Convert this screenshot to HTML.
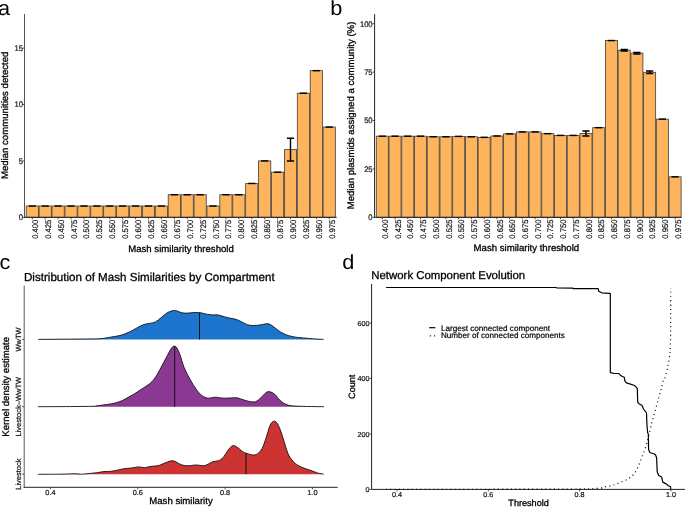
<!DOCTYPE html>
<html><head><meta charset="utf-8"><title>Figure</title>
<style>html,body{margin:0;padding:0;background:#fff;overflow:hidden}svg{display:block;will-change:transform}text{font-family:"Liberation Sans",sans-serif;text-rendering:geometricPrecision}</style>
</head><body>
<svg width="685" height="507" viewBox="0 0 685 507" font-family='"Liberation Sans", sans-serif'>
<rect width="685" height="507" fill="#fff"/>
<rect x="26.20" y="206.02" width="12.20" height="11.28" fill="#FDB45C" stroke="#3d3d3d" stroke-width="0.8"/>
<rect x="39.11" y="206.02" width="12.20" height="11.28" fill="#FDB45C" stroke="#3d3d3d" stroke-width="0.8"/>
<rect x="52.02" y="206.02" width="12.20" height="11.28" fill="#FDB45C" stroke="#3d3d3d" stroke-width="0.8"/>
<rect x="64.93" y="206.02" width="12.20" height="11.28" fill="#FDB45C" stroke="#3d3d3d" stroke-width="0.8"/>
<rect x="77.84" y="206.02" width="12.20" height="11.28" fill="#FDB45C" stroke="#3d3d3d" stroke-width="0.8"/>
<rect x="90.75" y="206.02" width="12.20" height="11.28" fill="#FDB45C" stroke="#3d3d3d" stroke-width="0.8"/>
<rect x="103.66" y="206.02" width="12.20" height="11.28" fill="#FDB45C" stroke="#3d3d3d" stroke-width="0.8"/>
<rect x="116.57" y="206.02" width="12.20" height="11.28" fill="#FDB45C" stroke="#3d3d3d" stroke-width="0.8"/>
<rect x="129.48" y="206.02" width="12.20" height="11.28" fill="#FDB45C" stroke="#3d3d3d" stroke-width="0.8"/>
<rect x="142.39" y="206.02" width="12.20" height="11.28" fill="#FDB45C" stroke="#3d3d3d" stroke-width="0.8"/>
<rect x="155.30" y="206.02" width="12.20" height="11.28" fill="#FDB45C" stroke="#3d3d3d" stroke-width="0.8"/>
<rect x="168.21" y="194.74" width="12.20" height="22.56" fill="#FDB45C" stroke="#3d3d3d" stroke-width="0.8"/>
<rect x="181.12" y="194.74" width="12.20" height="22.56" fill="#FDB45C" stroke="#3d3d3d" stroke-width="0.8"/>
<rect x="194.03" y="194.74" width="12.20" height="22.56" fill="#FDB45C" stroke="#3d3d3d" stroke-width="0.8"/>
<rect x="206.94" y="206.02" width="12.20" height="11.28" fill="#FDB45C" stroke="#3d3d3d" stroke-width="0.8"/>
<rect x="219.85" y="194.74" width="12.20" height="22.56" fill="#FDB45C" stroke="#3d3d3d" stroke-width="0.8"/>
<rect x="232.76" y="194.74" width="12.20" height="22.56" fill="#FDB45C" stroke="#3d3d3d" stroke-width="0.8"/>
<rect x="245.67" y="183.46" width="12.20" height="33.84" fill="#FDB45C" stroke="#3d3d3d" stroke-width="0.8"/>
<rect x="258.58" y="160.90" width="12.20" height="56.40" fill="#FDB45C" stroke="#3d3d3d" stroke-width="0.8"/>
<rect x="271.49" y="172.18" width="12.20" height="45.12" fill="#FDB45C" stroke="#3d3d3d" stroke-width="0.8"/>
<rect x="284.40" y="149.62" width="12.20" height="67.68" fill="#FDB45C" stroke="#3d3d3d" stroke-width="0.8"/>
<rect x="297.31" y="93.22" width="12.20" height="124.08" fill="#FDB45C" stroke="#3d3d3d" stroke-width="0.8"/>
<rect x="310.22" y="70.66" width="12.20" height="146.64" fill="#FDB45C" stroke="#3d3d3d" stroke-width="0.8"/>
<rect x="323.13" y="127.06" width="12.20" height="90.24" fill="#FDB45C" stroke="#3d3d3d" stroke-width="0.8"/>
<path d="M28.70,206.02 H35.90" stroke="#000" stroke-width="1.45" fill="none"/>
<path d="M41.61,206.02 H48.81" stroke="#000" stroke-width="1.45" fill="none"/>
<path d="M54.52,206.02 H61.72" stroke="#000" stroke-width="1.45" fill="none"/>
<path d="M67.43,206.02 H74.63" stroke="#000" stroke-width="1.45" fill="none"/>
<path d="M80.34,206.02 H87.54" stroke="#000" stroke-width="1.45" fill="none"/>
<path d="M93.25,206.02 H100.45" stroke="#000" stroke-width="1.45" fill="none"/>
<path d="M106.16,206.02 H113.36" stroke="#000" stroke-width="1.45" fill="none"/>
<path d="M119.07,206.02 H126.27" stroke="#000" stroke-width="1.45" fill="none"/>
<path d="M131.98,206.02 H139.18" stroke="#000" stroke-width="1.45" fill="none"/>
<path d="M144.89,206.02 H152.09" stroke="#000" stroke-width="1.45" fill="none"/>
<path d="M157.80,206.02 H165.00" stroke="#000" stroke-width="1.45" fill="none"/>
<path d="M170.71,194.74 H177.91" stroke="#000" stroke-width="1.45" fill="none"/>
<path d="M183.62,194.74 H190.82" stroke="#000" stroke-width="1.45" fill="none"/>
<path d="M196.53,194.74 H203.73" stroke="#000" stroke-width="1.45" fill="none"/>
<path d="M209.44,206.02 H216.64" stroke="#000" stroke-width="1.45" fill="none"/>
<path d="M222.35,194.74 H229.55" stroke="#000" stroke-width="1.45" fill="none"/>
<path d="M235.26,194.74 H242.46" stroke="#000" stroke-width="1.45" fill="none"/>
<path d="M248.17,183.46 H255.37" stroke="#000" stroke-width="1.45" fill="none"/>
<path d="M261.08,160.90 H268.28" stroke="#000" stroke-width="1.45" fill="none"/>
<path d="M273.99,172.18 H281.19" stroke="#000" stroke-width="1.45" fill="none"/>
<path d="M286.90,138.34 H294.10 M286.90,160.90 H294.10 M290.50,138.34 V160.90" stroke="#000" stroke-width="1.45" fill="none"/>
<path d="M299.81,93.22 H307.01" stroke="#000" stroke-width="1.45" fill="none"/>
<path d="M312.72,70.66 H319.92" stroke="#000" stroke-width="1.45" fill="none"/>
<path d="M325.63,127.06 H332.83" stroke="#000" stroke-width="1.45" fill="none"/>
<path d="M24.50,14.00 V217.80" stroke="#555" stroke-width="1" fill="none"/>
<path d="M24.00,217.30 H336.70" stroke="#222" stroke-width="1" fill="none"/>
<path d="M22.50,217.30 H24.50" stroke="#222" stroke-width="0.8"/>
<text x="0.00" y="0.00" font-size="8.10" text-anchor="end" transform="translate(23.00,220.22) scale(0.940,1)" fill="#111" stroke="#111" stroke-width="0.20">0</text>
<path d="M22.50,160.90 H24.50" stroke="#222" stroke-width="0.8"/>
<text x="0.00" y="0.00" font-size="8.10" text-anchor="end" transform="translate(23.00,163.82) scale(0.940,1)" fill="#111" stroke="#111" stroke-width="0.20">5</text>
<path d="M22.50,104.50 H24.50" stroke="#222" stroke-width="0.8"/>
<text x="0.00" y="0.00" font-size="8.10" text-anchor="end" transform="translate(23.00,107.42) scale(0.940,1)" fill="#111" stroke="#111" stroke-width="0.20">10</text>
<path d="M22.50,48.10 H24.50" stroke="#222" stroke-width="0.8"/>
<text x="0.00" y="0.00" font-size="8.10" text-anchor="end" transform="translate(23.00,51.02) scale(0.940,1)" fill="#111" stroke="#111" stroke-width="0.20">15</text>
<path d="M32.30,217.30 V219.30" stroke="#222" stroke-width="0.8"/>
<text x="0.00" y="0.00" font-size="8.10" text-anchor="end" transform="translate(37.80,219.70) rotate(-90) scale(0.940,1)" fill="#111" stroke="#111" stroke-width="0.20">0.400</text>
<path d="M45.21,217.30 V219.30" stroke="#222" stroke-width="0.8"/>
<text x="0.00" y="0.00" font-size="8.10" text-anchor="end" transform="translate(50.71,219.70) rotate(-90) scale(0.940,1)" fill="#111" stroke="#111" stroke-width="0.20">0.425</text>
<path d="M58.12,217.30 V219.30" stroke="#222" stroke-width="0.8"/>
<text x="0.00" y="0.00" font-size="8.10" text-anchor="end" transform="translate(63.62,219.70) rotate(-90) scale(0.940,1)" fill="#111" stroke="#111" stroke-width="0.20">0.450</text>
<path d="M71.03,217.30 V219.30" stroke="#222" stroke-width="0.8"/>
<text x="0.00" y="0.00" font-size="8.10" text-anchor="end" transform="translate(76.53,219.70) rotate(-90) scale(0.940,1)" fill="#111" stroke="#111" stroke-width="0.20">0.475</text>
<path d="M83.94,217.30 V219.30" stroke="#222" stroke-width="0.8"/>
<text x="0.00" y="0.00" font-size="8.10" text-anchor="end" transform="translate(89.44,219.70) rotate(-90) scale(0.940,1)" fill="#111" stroke="#111" stroke-width="0.20">0.500</text>
<path d="M96.85,217.30 V219.30" stroke="#222" stroke-width="0.8"/>
<text x="0.00" y="0.00" font-size="8.10" text-anchor="end" transform="translate(102.35,219.70) rotate(-90) scale(0.940,1)" fill="#111" stroke="#111" stroke-width="0.20">0.525</text>
<path d="M109.76,217.30 V219.30" stroke="#222" stroke-width="0.8"/>
<text x="0.00" y="0.00" font-size="8.10" text-anchor="end" transform="translate(115.26,219.70) rotate(-90) scale(0.940,1)" fill="#111" stroke="#111" stroke-width="0.20">0.550</text>
<path d="M122.67,217.30 V219.30" stroke="#222" stroke-width="0.8"/>
<text x="0.00" y="0.00" font-size="8.10" text-anchor="end" transform="translate(128.17,219.70) rotate(-90) scale(0.940,1)" fill="#111" stroke="#111" stroke-width="0.20">0.575</text>
<path d="M135.58,217.30 V219.30" stroke="#222" stroke-width="0.8"/>
<text x="0.00" y="0.00" font-size="8.10" text-anchor="end" transform="translate(141.08,219.70) rotate(-90) scale(0.940,1)" fill="#111" stroke="#111" stroke-width="0.20">0.600</text>
<path d="M148.49,217.30 V219.30" stroke="#222" stroke-width="0.8"/>
<text x="0.00" y="0.00" font-size="8.10" text-anchor="end" transform="translate(153.99,219.70) rotate(-90) scale(0.940,1)" fill="#111" stroke="#111" stroke-width="0.20">0.625</text>
<path d="M161.40,217.30 V219.30" stroke="#222" stroke-width="0.8"/>
<text x="0.00" y="0.00" font-size="8.10" text-anchor="end" transform="translate(166.90,219.70) rotate(-90) scale(0.940,1)" fill="#111" stroke="#111" stroke-width="0.20">0.650</text>
<path d="M174.31,217.30 V219.30" stroke="#222" stroke-width="0.8"/>
<text x="0.00" y="0.00" font-size="8.10" text-anchor="end" transform="translate(179.81,219.70) rotate(-90) scale(0.940,1)" fill="#111" stroke="#111" stroke-width="0.20">0.675</text>
<path d="M187.22,217.30 V219.30" stroke="#222" stroke-width="0.8"/>
<text x="0.00" y="0.00" font-size="8.10" text-anchor="end" transform="translate(192.72,219.70) rotate(-90) scale(0.940,1)" fill="#111" stroke="#111" stroke-width="0.20">0.700</text>
<path d="M200.13,217.30 V219.30" stroke="#222" stroke-width="0.8"/>
<text x="0.00" y="0.00" font-size="8.10" text-anchor="end" transform="translate(205.63,219.70) rotate(-90) scale(0.940,1)" fill="#111" stroke="#111" stroke-width="0.20">0.725</text>
<path d="M213.04,217.30 V219.30" stroke="#222" stroke-width="0.8"/>
<text x="0.00" y="0.00" font-size="8.10" text-anchor="end" transform="translate(218.54,219.70) rotate(-90) scale(0.940,1)" fill="#111" stroke="#111" stroke-width="0.20">0.750</text>
<path d="M225.95,217.30 V219.30" stroke="#222" stroke-width="0.8"/>
<text x="0.00" y="0.00" font-size="8.10" text-anchor="end" transform="translate(231.45,219.70) rotate(-90) scale(0.940,1)" fill="#111" stroke="#111" stroke-width="0.20">0.775</text>
<path d="M238.86,217.30 V219.30" stroke="#222" stroke-width="0.8"/>
<text x="0.00" y="0.00" font-size="8.10" text-anchor="end" transform="translate(244.36,219.70) rotate(-90) scale(0.940,1)" fill="#111" stroke="#111" stroke-width="0.20">0.800</text>
<path d="M251.77,217.30 V219.30" stroke="#222" stroke-width="0.8"/>
<text x="0.00" y="0.00" font-size="8.10" text-anchor="end" transform="translate(257.27,219.70) rotate(-90) scale(0.940,1)" fill="#111" stroke="#111" stroke-width="0.20">0.825</text>
<path d="M264.68,217.30 V219.30" stroke="#222" stroke-width="0.8"/>
<text x="0.00" y="0.00" font-size="8.10" text-anchor="end" transform="translate(270.18,219.70) rotate(-90) scale(0.940,1)" fill="#111" stroke="#111" stroke-width="0.20">0.850</text>
<path d="M277.59,217.30 V219.30" stroke="#222" stroke-width="0.8"/>
<text x="0.00" y="0.00" font-size="8.10" text-anchor="end" transform="translate(283.09,219.70) rotate(-90) scale(0.940,1)" fill="#111" stroke="#111" stroke-width="0.20">0.875</text>
<path d="M290.50,217.30 V219.30" stroke="#222" stroke-width="0.8"/>
<text x="0.00" y="0.00" font-size="8.10" text-anchor="end" transform="translate(296.00,219.70) rotate(-90) scale(0.940,1)" fill="#111" stroke="#111" stroke-width="0.20">0.900</text>
<path d="M303.41,217.30 V219.30" stroke="#222" stroke-width="0.8"/>
<text x="0.00" y="0.00" font-size="8.10" text-anchor="end" transform="translate(308.91,219.70) rotate(-90) scale(0.940,1)" fill="#111" stroke="#111" stroke-width="0.20">0.925</text>
<path d="M316.32,217.30 V219.30" stroke="#222" stroke-width="0.8"/>
<text x="0.00" y="0.00" font-size="8.10" text-anchor="end" transform="translate(321.82,219.70) rotate(-90) scale(0.940,1)" fill="#111" stroke="#111" stroke-width="0.20">0.950</text>
<path d="M329.23,217.30 V219.30" stroke="#222" stroke-width="0.8"/>
<text x="0.00" y="0.00" font-size="8.10" text-anchor="end" transform="translate(334.73,219.70) rotate(-90) scale(0.940,1)" fill="#111" stroke="#111" stroke-width="0.20">0.975</text>
<text x="181.00" y="252.00" font-size="9.60" text-anchor="middle" fill="#000" stroke="#000" stroke-width="0.30">Mash similarity threshold</text>
<text x="0.00" y="0.00" font-size="9.60" text-anchor="middle" transform="translate(8.00,115.35) rotate(-90)" fill="#000" stroke="#000" stroke-width="0.30">Median communities detected</text>
<text transform="translate(-1.90,14.90) scale(1.060,1)" x="0" y="0" font-size="20.50" fill="#000">a</text>
<rect x="376.29" y="136.18" width="12.03" height="81.12" fill="#FDB45C" stroke="#3d3d3d" stroke-width="0.8"/>
<rect x="389.02" y="136.18" width="12.03" height="81.12" fill="#FDB45C" stroke="#3d3d3d" stroke-width="0.8"/>
<rect x="401.75" y="136.18" width="12.03" height="81.12" fill="#FDB45C" stroke="#3d3d3d" stroke-width="0.8"/>
<rect x="414.48" y="136.18" width="12.03" height="81.12" fill="#FDB45C" stroke="#3d3d3d" stroke-width="0.8"/>
<rect x="427.21" y="136.76" width="12.03" height="80.54" fill="#FDB45C" stroke="#3d3d3d" stroke-width="0.8"/>
<rect x="439.94" y="136.76" width="12.03" height="80.54" fill="#FDB45C" stroke="#3d3d3d" stroke-width="0.8"/>
<rect x="452.67" y="136.38" width="12.03" height="80.92" fill="#FDB45C" stroke="#3d3d3d" stroke-width="0.8"/>
<rect x="465.40" y="136.76" width="12.03" height="80.54" fill="#FDB45C" stroke="#3d3d3d" stroke-width="0.8"/>
<rect x="478.13" y="137.34" width="12.03" height="79.96" fill="#FDB45C" stroke="#3d3d3d" stroke-width="0.8"/>
<rect x="490.86" y="135.99" width="12.03" height="81.31" fill="#FDB45C" stroke="#3d3d3d" stroke-width="0.8"/>
<rect x="503.59" y="133.86" width="12.03" height="83.44" fill="#FDB45C" stroke="#3d3d3d" stroke-width="0.8"/>
<rect x="516.32" y="131.92" width="12.03" height="85.38" fill="#FDB45C" stroke="#3d3d3d" stroke-width="0.8"/>
<rect x="529.05" y="131.92" width="12.03" height="85.38" fill="#FDB45C" stroke="#3d3d3d" stroke-width="0.8"/>
<rect x="541.78" y="133.66" width="12.03" height="83.64" fill="#FDB45C" stroke="#3d3d3d" stroke-width="0.8"/>
<rect x="554.51" y="135.41" width="12.03" height="81.89" fill="#FDB45C" stroke="#3d3d3d" stroke-width="0.8"/>
<rect x="567.24" y="135.41" width="12.03" height="81.89" fill="#FDB45C" stroke="#3d3d3d" stroke-width="0.8"/>
<rect x="579.97" y="133.47" width="12.03" height="83.83" fill="#FDB45C" stroke="#3d3d3d" stroke-width="0.8"/>
<rect x="592.70" y="127.66" width="12.03" height="89.64" fill="#FDB45C" stroke="#3d3d3d" stroke-width="0.8"/>
<rect x="605.43" y="40.54" width="12.03" height="176.76" fill="#FDB45C" stroke="#3d3d3d" stroke-width="0.8"/>
<rect x="618.16" y="50.22" width="12.03" height="167.08" fill="#FDB45C" stroke="#3d3d3d" stroke-width="0.8"/>
<rect x="630.89" y="53.13" width="12.03" height="164.17" fill="#FDB45C" stroke="#3d3d3d" stroke-width="0.8"/>
<rect x="643.62" y="72.29" width="12.03" height="145.01" fill="#FDB45C" stroke="#3d3d3d" stroke-width="0.8"/>
<rect x="656.35" y="119.14" width="12.03" height="98.16" fill="#FDB45C" stroke="#3d3d3d" stroke-width="0.8"/>
<rect x="669.08" y="176.84" width="12.03" height="40.46" fill="#FDB45C" stroke="#3d3d3d" stroke-width="0.8"/>
<path d="M378.70,136.18 H385.90" stroke="#000" stroke-width="1.45" fill="none"/>
<path d="M391.43,136.18 H398.63" stroke="#000" stroke-width="1.45" fill="none"/>
<path d="M404.16,136.18 H411.36" stroke="#000" stroke-width="1.45" fill="none"/>
<path d="M416.89,136.18 H424.09" stroke="#000" stroke-width="1.45" fill="none"/>
<path d="M429.62,136.76 H436.82" stroke="#000" stroke-width="1.45" fill="none"/>
<path d="M442.35,136.76 H449.55" stroke="#000" stroke-width="1.45" fill="none"/>
<path d="M455.08,136.38 H462.28" stroke="#000" stroke-width="1.45" fill="none"/>
<path d="M467.81,136.76 H475.01" stroke="#000" stroke-width="1.45" fill="none"/>
<path d="M480.54,137.34 H487.74" stroke="#000" stroke-width="1.45" fill="none"/>
<path d="M493.27,135.99 H500.47" stroke="#000" stroke-width="1.45" fill="none"/>
<path d="M506.00,133.86 H513.20" stroke="#000" stroke-width="1.45" fill="none"/>
<path d="M518.73,131.92 H525.93" stroke="#000" stroke-width="1.45" fill="none"/>
<path d="M531.46,131.92 H538.66" stroke="#000" stroke-width="1.45" fill="none"/>
<path d="M544.19,133.66 H551.39" stroke="#000" stroke-width="1.45" fill="none"/>
<path d="M556.92,135.41 H564.12" stroke="#000" stroke-width="1.45" fill="none"/>
<path d="M569.65,135.41 H576.85" stroke="#000" stroke-width="1.45" fill="none"/>
<path d="M582.38,130.95 H589.58 M582.38,135.99 H589.58 M585.98,130.95 V135.99" stroke="#000" stroke-width="1.45" fill="none"/>
<path d="M595.11,127.66 H602.31" stroke="#000" stroke-width="1.45" fill="none"/>
<path d="M607.84,40.54 H615.04" stroke="#000" stroke-width="1.45" fill="none"/>
<path d="M620.57,49.45 H627.77 M620.57,51.00 H627.77 M624.17,49.45 V51.00" stroke="#000" stroke-width="1.45" fill="none"/>
<path d="M633.30,52.35 H640.50 M633.30,53.90 H640.50 M636.90,52.35 V53.90" stroke="#000" stroke-width="1.45" fill="none"/>
<path d="M646.03,71.04 H653.23 M646.03,73.55 H653.23 M649.63,71.04 V73.55" stroke="#000" stroke-width="1.45" fill="none"/>
<path d="M658.76,119.14 H665.96" stroke="#000" stroke-width="1.45" fill="none"/>
<path d="M671.49,176.84 H678.69" stroke="#000" stroke-width="1.45" fill="none"/>
<path d="M374.60,14.10 V217.80" stroke="#222" stroke-width="1" fill="none"/>
<path d="M374.10,217.30 H681.40" stroke="#222" stroke-width="1" fill="none"/>
<path d="M372.60,217.30 H374.60" stroke="#222" stroke-width="0.8"/>
<text x="0.00" y="0.00" font-size="8.10" text-anchor="end" transform="translate(372.60,220.22) scale(0.940,1)" fill="#111" stroke="#111" stroke-width="0.20">0</text>
<path d="M372.60,168.90 H374.60" stroke="#222" stroke-width="0.8"/>
<text x="0.00" y="0.00" font-size="8.10" text-anchor="end" transform="translate(372.60,171.82) scale(0.940,1)" fill="#111" stroke="#111" stroke-width="0.20">25</text>
<path d="M372.60,120.50 H374.60" stroke="#222" stroke-width="0.8"/>
<text x="0.00" y="0.00" font-size="8.10" text-anchor="end" transform="translate(372.60,123.42) scale(0.940,1)" fill="#111" stroke="#111" stroke-width="0.20">50</text>
<path d="M372.60,72.10 H374.60" stroke="#222" stroke-width="0.8"/>
<text x="0.00" y="0.00" font-size="8.10" text-anchor="end" transform="translate(372.60,75.02) scale(0.940,1)" fill="#111" stroke="#111" stroke-width="0.20">75</text>
<path d="M372.60,23.70 H374.60" stroke="#222" stroke-width="0.8"/>
<text x="0.00" y="0.00" font-size="8.10" text-anchor="end" transform="translate(372.60,26.62) scale(0.940,1)" fill="#111" stroke="#111" stroke-width="0.20">100</text>
<path d="M382.30,217.30 V219.30" stroke="#222" stroke-width="0.8"/>
<text x="0.00" y="0.00" font-size="8.10" text-anchor="end" transform="translate(388.00,219.60) rotate(-90) scale(0.940,1)" fill="#111" stroke="#111" stroke-width="0.20">0.400</text>
<path d="M395.03,217.30 V219.30" stroke="#222" stroke-width="0.8"/>
<text x="0.00" y="0.00" font-size="8.10" text-anchor="end" transform="translate(400.73,219.60) rotate(-90) scale(0.940,1)" fill="#111" stroke="#111" stroke-width="0.20">0.425</text>
<path d="M407.76,217.30 V219.30" stroke="#222" stroke-width="0.8"/>
<text x="0.00" y="0.00" font-size="8.10" text-anchor="end" transform="translate(413.46,219.60) rotate(-90) scale(0.940,1)" fill="#111" stroke="#111" stroke-width="0.20">0.450</text>
<path d="M420.49,217.30 V219.30" stroke="#222" stroke-width="0.8"/>
<text x="0.00" y="0.00" font-size="8.10" text-anchor="end" transform="translate(426.19,219.60) rotate(-90) scale(0.940,1)" fill="#111" stroke="#111" stroke-width="0.20">0.475</text>
<path d="M433.22,217.30 V219.30" stroke="#222" stroke-width="0.8"/>
<text x="0.00" y="0.00" font-size="8.10" text-anchor="end" transform="translate(438.92,219.60) rotate(-90) scale(0.940,1)" fill="#111" stroke="#111" stroke-width="0.20">0.500</text>
<path d="M445.95,217.30 V219.30" stroke="#222" stroke-width="0.8"/>
<text x="0.00" y="0.00" font-size="8.10" text-anchor="end" transform="translate(451.65,219.60) rotate(-90) scale(0.940,1)" fill="#111" stroke="#111" stroke-width="0.20">0.525</text>
<path d="M458.68,217.30 V219.30" stroke="#222" stroke-width="0.8"/>
<text x="0.00" y="0.00" font-size="8.10" text-anchor="end" transform="translate(464.38,219.60) rotate(-90) scale(0.940,1)" fill="#111" stroke="#111" stroke-width="0.20">0.550</text>
<path d="M471.41,217.30 V219.30" stroke="#222" stroke-width="0.8"/>
<text x="0.00" y="0.00" font-size="8.10" text-anchor="end" transform="translate(477.11,219.60) rotate(-90) scale(0.940,1)" fill="#111" stroke="#111" stroke-width="0.20">0.575</text>
<path d="M484.14,217.30 V219.30" stroke="#222" stroke-width="0.8"/>
<text x="0.00" y="0.00" font-size="8.10" text-anchor="end" transform="translate(489.84,219.60) rotate(-90) scale(0.940,1)" fill="#111" stroke="#111" stroke-width="0.20">0.600</text>
<path d="M496.87,217.30 V219.30" stroke="#222" stroke-width="0.8"/>
<text x="0.00" y="0.00" font-size="8.10" text-anchor="end" transform="translate(502.57,219.60) rotate(-90) scale(0.940,1)" fill="#111" stroke="#111" stroke-width="0.20">0.625</text>
<path d="M509.60,217.30 V219.30" stroke="#222" stroke-width="0.8"/>
<text x="0.00" y="0.00" font-size="8.10" text-anchor="end" transform="translate(515.30,219.60) rotate(-90) scale(0.940,1)" fill="#111" stroke="#111" stroke-width="0.20">0.650</text>
<path d="M522.33,217.30 V219.30" stroke="#222" stroke-width="0.8"/>
<text x="0.00" y="0.00" font-size="8.10" text-anchor="end" transform="translate(528.03,219.60) rotate(-90) scale(0.940,1)" fill="#111" stroke="#111" stroke-width="0.20">0.675</text>
<path d="M535.06,217.30 V219.30" stroke="#222" stroke-width="0.8"/>
<text x="0.00" y="0.00" font-size="8.10" text-anchor="end" transform="translate(540.76,219.60) rotate(-90) scale(0.940,1)" fill="#111" stroke="#111" stroke-width="0.20">0.700</text>
<path d="M547.79,217.30 V219.30" stroke="#222" stroke-width="0.8"/>
<text x="0.00" y="0.00" font-size="8.10" text-anchor="end" transform="translate(553.49,219.60) rotate(-90) scale(0.940,1)" fill="#111" stroke="#111" stroke-width="0.20">0.725</text>
<path d="M560.52,217.30 V219.30" stroke="#222" stroke-width="0.8"/>
<text x="0.00" y="0.00" font-size="8.10" text-anchor="end" transform="translate(566.22,219.60) rotate(-90) scale(0.940,1)" fill="#111" stroke="#111" stroke-width="0.20">0.750</text>
<path d="M573.25,217.30 V219.30" stroke="#222" stroke-width="0.8"/>
<text x="0.00" y="0.00" font-size="8.10" text-anchor="end" transform="translate(578.95,219.60) rotate(-90) scale(0.940,1)" fill="#111" stroke="#111" stroke-width="0.20">0.775</text>
<path d="M585.98,217.30 V219.30" stroke="#222" stroke-width="0.8"/>
<text x="0.00" y="0.00" font-size="8.10" text-anchor="end" transform="translate(591.68,219.60) rotate(-90) scale(0.940,1)" fill="#111" stroke="#111" stroke-width="0.20">0.800</text>
<path d="M598.71,217.30 V219.30" stroke="#222" stroke-width="0.8"/>
<text x="0.00" y="0.00" font-size="8.10" text-anchor="end" transform="translate(604.41,219.60) rotate(-90) scale(0.940,1)" fill="#111" stroke="#111" stroke-width="0.20">0.825</text>
<path d="M611.44,217.30 V219.30" stroke="#222" stroke-width="0.8"/>
<text x="0.00" y="0.00" font-size="8.10" text-anchor="end" transform="translate(617.14,219.60) rotate(-90) scale(0.940,1)" fill="#111" stroke="#111" stroke-width="0.20">0.850</text>
<path d="M624.17,217.30 V219.30" stroke="#222" stroke-width="0.8"/>
<text x="0.00" y="0.00" font-size="8.10" text-anchor="end" transform="translate(629.87,219.60) rotate(-90) scale(0.940,1)" fill="#111" stroke="#111" stroke-width="0.20">0.875</text>
<path d="M636.90,217.30 V219.30" stroke="#222" stroke-width="0.8"/>
<text x="0.00" y="0.00" font-size="8.10" text-anchor="end" transform="translate(642.60,219.60) rotate(-90) scale(0.940,1)" fill="#111" stroke="#111" stroke-width="0.20">0.900</text>
<path d="M649.63,217.30 V219.30" stroke="#222" stroke-width="0.8"/>
<text x="0.00" y="0.00" font-size="8.10" text-anchor="end" transform="translate(655.33,219.60) rotate(-90) scale(0.940,1)" fill="#111" stroke="#111" stroke-width="0.20">0.925</text>
<path d="M662.36,217.30 V219.30" stroke="#222" stroke-width="0.8"/>
<text x="0.00" y="0.00" font-size="8.10" text-anchor="end" transform="translate(668.06,219.60) rotate(-90) scale(0.940,1)" fill="#111" stroke="#111" stroke-width="0.20">0.950</text>
<path d="M675.09,217.30 V219.30" stroke="#222" stroke-width="0.8"/>
<text x="0.00" y="0.00" font-size="8.10" text-anchor="end" transform="translate(680.79,219.60) rotate(-90) scale(0.940,1)" fill="#111" stroke="#111" stroke-width="0.20">0.975</text>
<text x="526.40" y="251.40" font-size="9.60" text-anchor="middle" fill="#000" stroke="#000" stroke-width="0.30">Mash similarity threshold</text>
<text x="0.00" y="0.00" font-size="9.60" text-anchor="middle" transform="translate(353.80,115.50) rotate(-90)" fill="#000" stroke="#000" stroke-width="0.30">Median plasmids assigned a community (%)</text>
<text transform="translate(330.20,14.80) scale(1.060,1)" x="0" y="0" font-size="20.50" fill="#000">b</text>
<text transform="translate(-0.50,268.60) scale(1.060,1)" x="0" y="0" font-size="20.50" fill="#000">c</text>
<text x="24.00" y="281.00" font-size="11.60" text-anchor="start" fill="#000" stroke="#000" stroke-width="0.30">Distribution of Mash Similarities by Compartment</text>
<path d="M38.30,339.40 C46.03,339.33 74.42,339.12 84.70,339.00 C94.98,338.88 96.23,338.92 100.00,338.70 C103.77,338.48 104.87,338.07 107.30,337.70 C109.73,337.33 112.17,336.95 114.60,336.50 C117.03,336.05 119.47,335.73 121.90,335.00 C124.33,334.27 126.77,333.23 129.20,332.10 C131.63,330.97 134.07,329.47 136.50,328.20 C138.93,326.93 141.62,325.30 143.80,324.50 C145.98,323.70 147.65,323.83 149.60,323.40 C151.55,322.97 153.55,322.88 155.50,321.90 C157.45,320.92 159.35,319.02 161.30,317.50 C163.25,315.98 165.50,313.88 167.20,312.80 C168.90,311.72 170.28,311.38 171.50,311.00 C172.72,310.62 173.52,310.48 174.50,310.50 C175.48,310.52 176.18,310.72 177.40,311.10 C178.62,311.48 180.10,312.47 181.80,312.80 C183.50,313.13 185.67,313.13 187.60,313.10 C189.53,313.07 191.58,312.68 193.40,312.60 C195.22,312.52 197.27,312.57 198.50,312.60 C199.73,312.63 199.43,312.53 200.80,312.80 C202.17,313.07 204.75,313.85 206.70,314.20 C208.65,314.55 210.55,314.77 212.50,314.90 C214.45,315.03 216.45,314.68 218.40,315.00 C220.35,315.32 222.27,316.27 224.20,316.80 C226.13,317.33 228.05,317.78 230.00,318.20 C231.95,318.62 233.95,318.68 235.90,319.30 C237.85,319.92 239.75,320.98 241.70,321.90 C243.65,322.82 245.65,324.20 247.60,324.80 C249.55,325.40 251.47,325.45 253.40,325.50 C255.33,325.55 257.50,325.32 259.20,325.10 C260.90,324.88 262.25,324.43 263.60,324.20 C264.95,323.97 266.08,323.60 267.30,323.70 C268.52,323.80 269.48,324.00 270.90,324.80 C272.32,325.60 274.18,327.28 275.80,328.50 C277.42,329.72 279.00,331.10 280.60,332.10 C282.20,333.10 283.58,333.78 285.40,334.50 C287.22,335.22 289.27,335.88 291.50,336.40 C293.73,336.92 295.97,337.27 298.80,337.60 C301.63,337.93 305.47,338.15 308.50,338.40 C311.53,338.65 314.48,338.93 317.00,339.10 C319.52,339.27 322.50,339.35 323.60,339.40 L323.60,339.40 L38.30,339.40 Z" fill="#1C74CC" stroke="none"/>
<path d="M199.50,312.69 V339.40" stroke="#111" stroke-width="1"/>
<path d="M38.30,339.40 C46.03,339.33 74.42,339.12 84.70,339.00 C94.98,338.88 96.23,338.92 100.00,338.70 C103.77,338.48 104.87,338.07 107.30,337.70 C109.73,337.33 112.17,336.95 114.60,336.50 C117.03,336.05 119.47,335.73 121.90,335.00 C124.33,334.27 126.77,333.23 129.20,332.10 C131.63,330.97 134.07,329.47 136.50,328.20 C138.93,326.93 141.62,325.30 143.80,324.50 C145.98,323.70 147.65,323.83 149.60,323.40 C151.55,322.97 153.55,322.88 155.50,321.90 C157.45,320.92 159.35,319.02 161.30,317.50 C163.25,315.98 165.50,313.88 167.20,312.80 C168.90,311.72 170.28,311.38 171.50,311.00 C172.72,310.62 173.52,310.48 174.50,310.50 C175.48,310.52 176.18,310.72 177.40,311.10 C178.62,311.48 180.10,312.47 181.80,312.80 C183.50,313.13 185.67,313.13 187.60,313.10 C189.53,313.07 191.58,312.68 193.40,312.60 C195.22,312.52 197.27,312.57 198.50,312.60 C199.73,312.63 199.43,312.53 200.80,312.80 C202.17,313.07 204.75,313.85 206.70,314.20 C208.65,314.55 210.55,314.77 212.50,314.90 C214.45,315.03 216.45,314.68 218.40,315.00 C220.35,315.32 222.27,316.27 224.20,316.80 C226.13,317.33 228.05,317.78 230.00,318.20 C231.95,318.62 233.95,318.68 235.90,319.30 C237.85,319.92 239.75,320.98 241.70,321.90 C243.65,322.82 245.65,324.20 247.60,324.80 C249.55,325.40 251.47,325.45 253.40,325.50 C255.33,325.55 257.50,325.32 259.20,325.10 C260.90,324.88 262.25,324.43 263.60,324.20 C264.95,323.97 266.08,323.60 267.30,323.70 C268.52,323.80 269.48,324.00 270.90,324.80 C272.32,325.60 274.18,327.28 275.80,328.50 C277.42,329.72 279.00,331.10 280.60,332.10 C282.20,333.10 283.58,333.78 285.40,334.50 C287.22,335.22 289.27,335.88 291.50,336.40 C293.73,336.92 295.97,337.27 298.80,337.60 C301.63,337.93 305.47,338.15 308.50,338.40 C311.53,338.65 314.48,338.93 317.00,339.10 C319.52,339.27 322.50,339.35 323.60,339.40" fill="none" stroke="#111" stroke-width="0.9"/>
<path d="M38.00,406.70 C46.40,406.65 78.78,406.52 88.40,406.40 C98.02,406.28 93.27,406.23 95.70,406.00 C98.13,405.77 100.32,405.37 103.00,405.00 C105.68,404.63 108.97,404.38 111.80,403.80 C114.63,403.22 117.80,402.28 120.00,401.50 C122.20,400.72 123.33,399.97 125.00,399.10 C126.67,398.23 128.40,397.20 130.00,396.30 C131.60,395.40 132.62,394.93 134.60,393.70 C136.58,392.47 139.47,390.50 141.90,388.90 C144.33,387.30 147.02,385.92 149.20,384.10 C151.38,382.28 153.05,380.73 155.00,378.00 C156.95,375.27 158.95,371.23 160.90,367.70 C162.85,364.17 165.00,359.95 166.70,356.80 C168.40,353.65 169.88,350.58 171.10,348.80 C172.32,347.02 173.03,346.23 174.00,346.10 C174.97,345.97 175.92,346.58 176.90,348.00 C177.88,349.42 178.68,351.32 179.90,354.60 C181.12,357.88 182.50,363.57 184.20,367.70 C185.90,371.83 188.15,375.87 190.10,379.40 C192.05,382.93 193.95,386.22 195.90,388.90 C197.85,391.58 199.85,393.97 201.80,395.50 C203.75,397.03 205.90,397.73 207.60,398.10 C209.30,398.47 210.60,397.85 212.00,397.70 C213.40,397.55 214.00,397.12 216.00,397.20 C218.00,397.28 220.62,398.10 224.00,398.20 C227.38,398.30 233.38,397.63 236.30,397.80 C239.22,397.97 239.47,398.62 241.50,399.20 C243.53,399.78 246.17,400.88 248.50,401.30 C250.83,401.72 253.45,402.28 255.50,401.70 C257.55,401.12 259.03,399.32 260.80,397.80 C262.57,396.28 264.63,393.62 266.10,392.60 C267.57,391.58 268.15,391.42 269.60,391.70 C271.05,391.98 273.05,392.85 274.80,394.30 C276.55,395.75 278.05,398.65 280.10,400.40 C282.15,402.15 284.18,403.83 287.10,404.80 C290.02,405.77 291.47,405.88 297.60,406.20 C303.73,406.52 319.52,406.62 323.90,406.70 L323.90,406.70 L38.00,406.70 Z" fill="#8A3891" stroke="none"/>
<path d="M174.70,346.56 V406.70" stroke="#111" stroke-width="1"/>
<path d="M38.00,406.70 C46.40,406.65 78.78,406.52 88.40,406.40 C98.02,406.28 93.27,406.23 95.70,406.00 C98.13,405.77 100.32,405.37 103.00,405.00 C105.68,404.63 108.97,404.38 111.80,403.80 C114.63,403.22 117.80,402.28 120.00,401.50 C122.20,400.72 123.33,399.97 125.00,399.10 C126.67,398.23 128.40,397.20 130.00,396.30 C131.60,395.40 132.62,394.93 134.60,393.70 C136.58,392.47 139.47,390.50 141.90,388.90 C144.33,387.30 147.02,385.92 149.20,384.10 C151.38,382.28 153.05,380.73 155.00,378.00 C156.95,375.27 158.95,371.23 160.90,367.70 C162.85,364.17 165.00,359.95 166.70,356.80 C168.40,353.65 169.88,350.58 171.10,348.80 C172.32,347.02 173.03,346.23 174.00,346.10 C174.97,345.97 175.92,346.58 176.90,348.00 C177.88,349.42 178.68,351.32 179.90,354.60 C181.12,357.88 182.50,363.57 184.20,367.70 C185.90,371.83 188.15,375.87 190.10,379.40 C192.05,382.93 193.95,386.22 195.90,388.90 C197.85,391.58 199.85,393.97 201.80,395.50 C203.75,397.03 205.90,397.73 207.60,398.10 C209.30,398.47 210.60,397.85 212.00,397.70 C213.40,397.55 214.00,397.12 216.00,397.20 C218.00,397.28 220.62,398.10 224.00,398.20 C227.38,398.30 233.38,397.63 236.30,397.80 C239.22,397.97 239.47,398.62 241.50,399.20 C243.53,399.78 246.17,400.88 248.50,401.30 C250.83,401.72 253.45,402.28 255.50,401.70 C257.55,401.12 259.03,399.32 260.80,397.80 C262.57,396.28 264.63,393.62 266.10,392.60 C267.57,391.58 268.15,391.42 269.60,391.70 C271.05,391.98 273.05,392.85 274.80,394.30 C276.55,395.75 278.05,398.65 280.10,400.40 C282.15,402.15 284.18,403.83 287.10,404.80 C290.02,405.77 291.47,405.88 297.60,406.20 C303.73,406.52 319.52,406.62 323.90,406.70" fill="none" stroke="#111" stroke-width="0.9"/>
<path d="M38.00,474.30 C41.67,474.28 53.90,474.28 60.00,474.20 C66.10,474.12 70.95,473.80 74.60,473.80 C78.25,473.80 79.47,474.25 81.90,474.20 C84.33,474.15 86.77,473.73 89.20,473.50 C91.63,473.27 94.07,473.12 96.50,472.80 C98.93,472.48 101.37,471.85 103.80,471.60 C106.23,471.35 108.67,471.58 111.10,471.30 C113.53,471.02 116.22,470.33 118.40,469.90 C120.58,469.47 122.02,469.02 124.20,468.70 C126.38,468.38 129.07,468.30 131.50,468.00 C133.93,467.70 136.60,466.95 138.80,466.90 C141.00,466.85 142.83,467.77 144.70,467.70 C146.57,467.63 147.65,466.87 150.00,466.50 C152.35,466.13 156.37,466.07 158.80,465.50 C161.23,464.93 162.67,463.85 164.60,463.10 C166.53,462.35 168.82,461.35 170.40,461.00 C171.98,460.65 172.88,460.68 174.10,461.00 C175.32,461.32 176.37,462.23 177.70,462.90 C179.03,463.57 180.38,464.52 182.10,465.00 C183.82,465.48 185.80,465.80 188.00,465.80 C190.20,465.80 193.37,465.08 195.30,465.00 C197.23,464.92 198.15,465.17 199.60,465.30 C201.05,465.43 202.53,466.02 204.00,465.80 C205.47,465.58 206.93,464.68 208.40,464.00 C209.87,463.32 211.10,462.25 212.80,461.70 C214.50,461.15 216.90,461.37 218.60,460.70 C220.30,460.03 221.53,459.28 223.00,457.70 C224.47,456.12 226.07,453.02 227.40,451.20 C228.73,449.38 229.92,447.73 231.00,446.80 C232.08,445.87 232.80,445.48 233.90,445.60 C235.00,445.72 236.25,446.57 237.60,447.50 C238.95,448.43 240.67,450.28 242.00,451.20 C243.33,452.12 243.83,452.37 245.60,453.00 C247.37,453.63 250.63,454.85 252.60,455.00 C254.57,455.15 255.82,455.00 257.40,453.90 C258.98,452.80 260.67,451.02 262.10,448.40 C263.53,445.78 264.68,442.02 266.00,438.20 C267.32,434.38 268.73,428.32 270.00,425.50 C271.27,422.68 272.42,421.68 273.60,421.30 C274.78,420.92 275.87,421.45 277.10,423.20 C278.33,424.95 279.68,428.25 281.00,431.80 C282.32,435.35 283.68,440.55 285.00,444.50 C286.32,448.45 287.20,452.35 288.90,455.50 C290.60,458.65 292.83,461.35 295.20,463.40 C297.57,465.45 300.47,466.62 303.10,467.80 C305.73,468.98 308.63,469.65 311.00,470.50 C313.37,471.35 315.20,472.30 317.30,472.90 C319.40,473.50 322.55,473.90 323.60,474.10 L323.60,474.20 L38.00,474.20 Z" fill="#CC3333" stroke="none"/>
<path d="M246.00,453.11 V474.20" stroke="#111" stroke-width="1"/>
<path d="M38.00,474.30 C41.67,474.28 53.90,474.28 60.00,474.20 C66.10,474.12 70.95,473.80 74.60,473.80 C78.25,473.80 79.47,474.25 81.90,474.20 C84.33,474.15 86.77,473.73 89.20,473.50 C91.63,473.27 94.07,473.12 96.50,472.80 C98.93,472.48 101.37,471.85 103.80,471.60 C106.23,471.35 108.67,471.58 111.10,471.30 C113.53,471.02 116.22,470.33 118.40,469.90 C120.58,469.47 122.02,469.02 124.20,468.70 C126.38,468.38 129.07,468.30 131.50,468.00 C133.93,467.70 136.60,466.95 138.80,466.90 C141.00,466.85 142.83,467.77 144.70,467.70 C146.57,467.63 147.65,466.87 150.00,466.50 C152.35,466.13 156.37,466.07 158.80,465.50 C161.23,464.93 162.67,463.85 164.60,463.10 C166.53,462.35 168.82,461.35 170.40,461.00 C171.98,460.65 172.88,460.68 174.10,461.00 C175.32,461.32 176.37,462.23 177.70,462.90 C179.03,463.57 180.38,464.52 182.10,465.00 C183.82,465.48 185.80,465.80 188.00,465.80 C190.20,465.80 193.37,465.08 195.30,465.00 C197.23,464.92 198.15,465.17 199.60,465.30 C201.05,465.43 202.53,466.02 204.00,465.80 C205.47,465.58 206.93,464.68 208.40,464.00 C209.87,463.32 211.10,462.25 212.80,461.70 C214.50,461.15 216.90,461.37 218.60,460.70 C220.30,460.03 221.53,459.28 223.00,457.70 C224.47,456.12 226.07,453.02 227.40,451.20 C228.73,449.38 229.92,447.73 231.00,446.80 C232.08,445.87 232.80,445.48 233.90,445.60 C235.00,445.72 236.25,446.57 237.60,447.50 C238.95,448.43 240.67,450.28 242.00,451.20 C243.33,452.12 243.83,452.37 245.60,453.00 C247.37,453.63 250.63,454.85 252.60,455.00 C254.57,455.15 255.82,455.00 257.40,453.90 C258.98,452.80 260.67,451.02 262.10,448.40 C263.53,445.78 264.68,442.02 266.00,438.20 C267.32,434.38 268.73,428.32 270.00,425.50 C271.27,422.68 272.42,421.68 273.60,421.30 C274.78,420.92 275.87,421.45 277.10,423.20 C278.33,424.95 279.68,428.25 281.00,431.80 C282.32,435.35 283.68,440.55 285.00,444.50 C286.32,448.45 287.20,452.35 288.90,455.50 C290.60,458.65 292.83,461.35 295.20,463.40 C297.57,465.45 300.47,466.62 303.10,467.80 C305.73,468.98 308.63,469.65 311.00,470.50 C313.37,471.35 315.20,472.30 317.30,472.90 C319.40,473.50 322.55,473.90 323.60,474.10" fill="none" stroke="#111" stroke-width="0.9"/>
<path d="M24.2,285.6 V487.8" stroke="#555" stroke-width="1" fill="none"/>
<path d="M23.7,487.3 H337.7" stroke="#222" stroke-width="1" fill="none"/>
<path d="M50.40,487.3 V489.3" stroke="#222" stroke-width="0.8"/>
<text x="50.40" y="495.00" font-size="7.30" text-anchor="middle" fill="#111" stroke="#111" stroke-width="0.20">0.4</text>
<path d="M137.80,487.3 V489.3" stroke="#222" stroke-width="0.8"/>
<text x="137.80" y="495.00" font-size="7.30" text-anchor="middle" fill="#111" stroke="#111" stroke-width="0.20">0.6</text>
<path d="M225.10,487.3 V489.3" stroke="#222" stroke-width="0.8"/>
<text x="225.10" y="495.00" font-size="7.30" text-anchor="middle" fill="#111" stroke="#111" stroke-width="0.20">0.8</text>
<path d="M312.40,487.3 V489.3" stroke="#222" stroke-width="0.8"/>
<text x="312.40" y="495.00" font-size="7.30" text-anchor="middle" fill="#111" stroke="#111" stroke-width="0.20">1.0</text>
<path d="M22.2,339.40 H24.2" stroke="#222" stroke-width="0.8"/>
<text x="0.00" y="0.00" font-size="7.50" text-anchor="middle" transform="translate(21.40,339.40) rotate(-90)" fill="#111" stroke="#111" stroke-width="0.20">WwTW</text>
<path d="M22.2,406.70 H24.2" stroke="#222" stroke-width="0.8"/>
<text x="0.00" y="0.00" font-size="7.50" text-anchor="middle" transform="translate(21.40,406.70) rotate(-90)" fill="#111" stroke="#111" stroke-width="0.20">Livestock–WwTW</text>
<path d="M22.2,474.10 H24.2" stroke="#222" stroke-width="0.8"/>
<text x="0.00" y="0.00" font-size="7.50" text-anchor="middle" transform="translate(21.40,474.10) rotate(-90)" fill="#111" stroke="#111" stroke-width="0.20">Livestock</text>
<text x="0.00" y="0.00" font-size="9.60" text-anchor="middle" transform="translate(9.00,386.80) rotate(-90)" fill="#000" stroke="#000" stroke-width="0.30">Kernel density estimate</text>
<text x="181.00" y="504.20" font-size="9.60" text-anchor="middle" fill="#000" stroke="#000" stroke-width="0.30">Mash similarity</text>
<text transform="translate(342.30,268.60) scale(1.060,1)" x="0" y="0" font-size="20.50" fill="#000">d</text>
<text x="371.30" y="279.00" font-size="11.40" text-anchor="start" fill="#000" stroke="#000" stroke-width="0.30">Network Component Evolution</text>
<path d="M371.6,283.9 V489.40 H685" stroke="#222" stroke-width="1" fill="none"/>
<path d="M369.6,489.40 H371.6" stroke="#222" stroke-width="0.8"/>
<text x="369.60" y="491.99" font-size="7.20" text-anchor="end" fill="#111" stroke="#111" stroke-width="0.20">0</text>
<path d="M369.6,433.94 H371.6" stroke="#222" stroke-width="0.8"/>
<text x="369.60" y="436.53" font-size="7.20" text-anchor="end" fill="#111" stroke="#111" stroke-width="0.20">200</text>
<path d="M369.6,378.48 H371.6" stroke="#222" stroke-width="0.8"/>
<text x="369.60" y="381.07" font-size="7.20" text-anchor="end" fill="#111" stroke="#111" stroke-width="0.20">400</text>
<path d="M369.6,323.02 H371.6" stroke="#222" stroke-width="0.8"/>
<text x="369.60" y="325.61" font-size="7.20" text-anchor="end" fill="#111" stroke="#111" stroke-width="0.20">600</text>
<path d="M397.00,489.40 V491.40" stroke="#222" stroke-width="0.8"/>
<text x="397.00" y="497.20" font-size="7.20" text-anchor="middle" fill="#111" stroke="#111" stroke-width="0.20">0.4</text>
<path d="M488.30,489.40 V491.40" stroke="#222" stroke-width="0.8"/>
<text x="488.30" y="497.20" font-size="7.20" text-anchor="middle" fill="#111" stroke="#111" stroke-width="0.20">0.6</text>
<path d="M579.60,489.40 V491.40" stroke="#222" stroke-width="0.8"/>
<text x="579.60" y="497.20" font-size="7.20" text-anchor="middle" fill="#111" stroke="#111" stroke-width="0.20">0.8</text>
<path d="M670.90,489.40 V491.40" stroke="#222" stroke-width="0.8"/>
<text x="670.90" y="497.20" font-size="7.20" text-anchor="middle" fill="#111" stroke="#111" stroke-width="0.20">1.0</text>
<text x="0.00" y="0.00" font-size="9.10" text-anchor="middle" transform="translate(354.80,386.80) rotate(-90)" fill="#000" stroke="#000" stroke-width="0.30">Count</text>
<text x="528.60" y="506.00" font-size="9.10" text-anchor="middle" fill="#000" stroke="#000" stroke-width="0.30">Threshold</text>
<path d="M429.2,327.7 H435.3" stroke="#000" stroke-width="1.2"/>
<path d="M429.8,335.8 H436" stroke="#000" stroke-width="1.2" stroke-dasharray="1 3.3"/>
<text x="441.00" y="331.00" font-size="8.10" text-anchor="start" fill="#000" stroke="#000" stroke-width="0.20">Largest connected component</text>
<text x="441.00" y="338.20" font-size="8.10" text-anchor="start" fill="#000" stroke="#000" stroke-width="0.20">Number of connected components</text>
<path d="M386.10,287.50 L556.00,287.50 L557.00,288.00 L572.50,288.10 L573.50,288.60 L597.50,288.70 L598.30,288.80 L598.80,291.30 L601.70,292.80 L609.60,293.30 L610.30,293.60 L610.30,372.60 L614.20,373.50 L618.90,373.50 L620.10,375.00 L621.90,376.20 L624.30,377.30 L624.90,380.90 L626.40,382.90 L629.70,383.90 L634.50,385.50 L637.30,388.30 L637.70,402.10 L638.60,403.50 L642.10,405.60 L643.50,409.00 L646.50,412.90 L646.90,424.20 L647.60,432.50 L648.30,433.90 L648.60,449.60 L649.80,452.50 L654.20,454.00 L655.60,455.00 L656.60,457.70 L657.20,471.80 L658.70,475.50 L661.60,477.00 L662.80,482.10 L666.10,483.90 L668.30,485.80 L670.50,486.60 L670.70,489.20" fill="none" stroke="#000" stroke-width="1.2" stroke-linejoin="round"/>
<path d="M386.00,489.30 C415.00,489.27 524.87,489.25 560.00,489.10 C595.13,488.95 589.35,488.77 596.80,488.40 C604.25,488.03 602.07,487.42 604.70,486.90 C607.33,486.38 609.98,486.07 612.60,485.30 C615.22,484.53 617.78,483.38 620.40,482.30 C623.02,481.22 626.10,480.12 628.30,478.80 C630.50,477.48 632.07,476.17 633.60,474.40 C635.13,472.63 636.30,470.65 637.50,468.20 C638.70,465.75 639.70,462.53 640.80,459.70 C641.90,456.87 643.12,453.83 644.10,451.20 C645.08,448.57 646.00,446.18 646.70,443.90 C647.40,441.62 647.45,441.02 648.30,437.50 C649.15,433.98 650.65,427.32 651.80,422.80 C652.95,418.28 654.05,414.53 655.20,410.40 C656.35,406.27 657.67,401.68 658.70,398.00 C659.73,394.32 660.60,391.30 661.40,388.30 C662.20,385.30 662.90,381.75 663.50,380.00 C664.10,378.25 664.38,379.62 665.00,377.80 C665.62,375.98 666.48,372.35 667.20,369.10 C667.92,365.85 668.77,362.28 669.30,358.30 C669.83,354.32 670.17,351.00 670.40,345.20 C670.63,339.40 670.65,332.98 670.70,323.50 C670.75,314.02 670.70,294.17 670.70,288.30" fill="none" stroke="#000" stroke-width="1.2" stroke-dasharray="1 3.3"/>
</svg>
</body></html>
